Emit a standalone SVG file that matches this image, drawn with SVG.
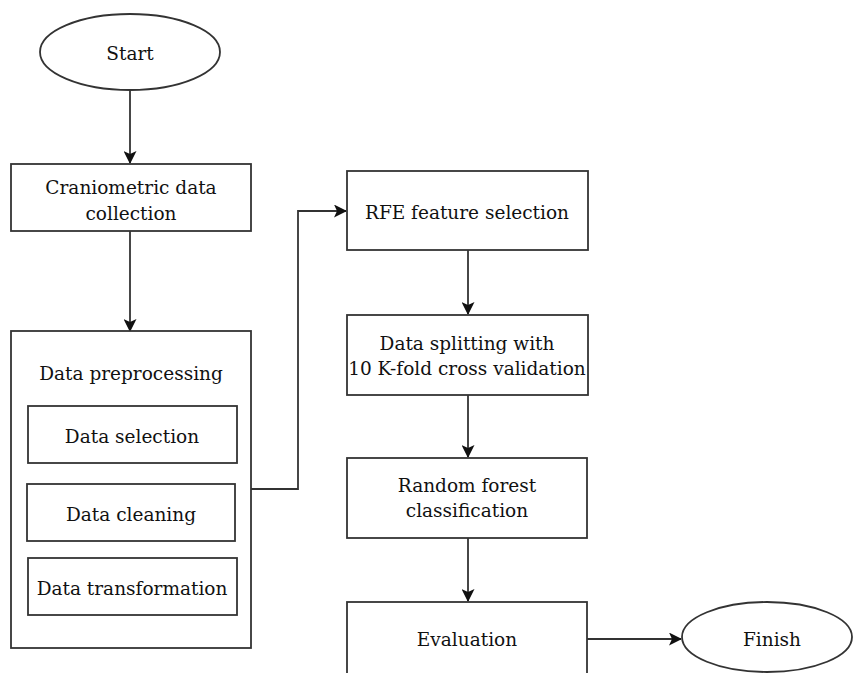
<svg xmlns="http://www.w3.org/2000/svg" width="855" height="673" viewBox="0 0 855 673">
<style>
.box{fill:#fff;stroke:#333;stroke-width:1.8}
.t{font-family:"DejaVu Serif","Liberation Serif",serif;font-size:18.5px;fill:#111;text-anchor:middle}
.c{fill:none;stroke:#333;stroke-width:1.8}
</style>
<defs>
<marker id="ah" markerWidth="13" markerHeight="13" refX="12" refY="6.5" orient="auto" markerUnits="userSpaceOnUse">
<path d="M0,0 L13,6.5 L0,13 L3,6.5 z" fill="#111"/>
</marker>
</defs>
<rect width="855" height="673" fill="#fff"/>
<g id="connectors">
<path class="c" d="M130,90 V163" marker-end="url(#ah)"/>
<path class="c" d="M130,231 V331" marker-end="url(#ah)"/>
<path class="c" d="M251,489 H298 V211 H346" marker-end="url(#ah)"/>
<path class="c" d="M468,250 V314" marker-end="url(#ah)"/>
<path class="c" d="M468,395 V457" marker-end="url(#ah)"/>
<path class="c" d="M468,538 V601" marker-end="url(#ah)"/>
<path class="c" d="M587,639 H681" marker-end="url(#ah)"/>
</g>
<g id="start">
<ellipse class="box" cx="130" cy="52" rx="90" ry="38"/>
<text class="t" x="130" y="60">Start</text>
</g>
<g id="craniometric">
<rect class="box" x="11" y="164" width="240" height="67"/>
<text class="t" x="131" y="194">Craniometric data</text>
<text class="t" x="131" y="220">collection</text>
</g>
<g id="preprocessing">
<rect class="box" x="11" y="331" width="240" height="317"/>
<text class="t" x="131" y="380">Data preprocessing</text>
</g>
<g id="selection">
<rect class="box" x="28" y="406" width="209" height="57"/>
<text class="t" x="132" y="443">Data selection</text>
</g>
<g id="cleaning">
<rect class="box" x="27" y="484" width="208" height="57"/>
<text class="t" x="131" y="521">Data cleaning</text>
</g>
<g id="transformation">
<rect class="box" x="28" y="558" width="209" height="57"/>
<text class="t" x="132" y="595">Data transformation</text>
</g>
<g id="rfe">
<rect class="box" x="347" y="171" width="241" height="79"/>
<text class="t" x="467" y="219">RFE feature selection</text>
</g>
<g id="splitting">
<rect class="box" x="347" y="315" width="241" height="80"/>
<text class="t" x="467" y="350">Data splitting with</text>
<text class="t" x="467" y="375">10 K-fold cross validation</text>
</g>
<g id="randomforest">
<rect class="box" x="347" y="458" width="240" height="80"/>
<text class="t" x="467" y="492">Random forest</text>
<text class="t" x="467" y="517">classification</text>
</g>
<g id="evaluation">
<rect class="box" x="347" y="602" width="240" height="90"/>
<text class="t" x="467" y="646">Evaluation</text>
</g>
<g id="finish">
<ellipse class="box" cx="767" cy="637" rx="85" ry="35"/>
<text class="t" x="772" y="646">Finish</text>
</g>
</svg>
